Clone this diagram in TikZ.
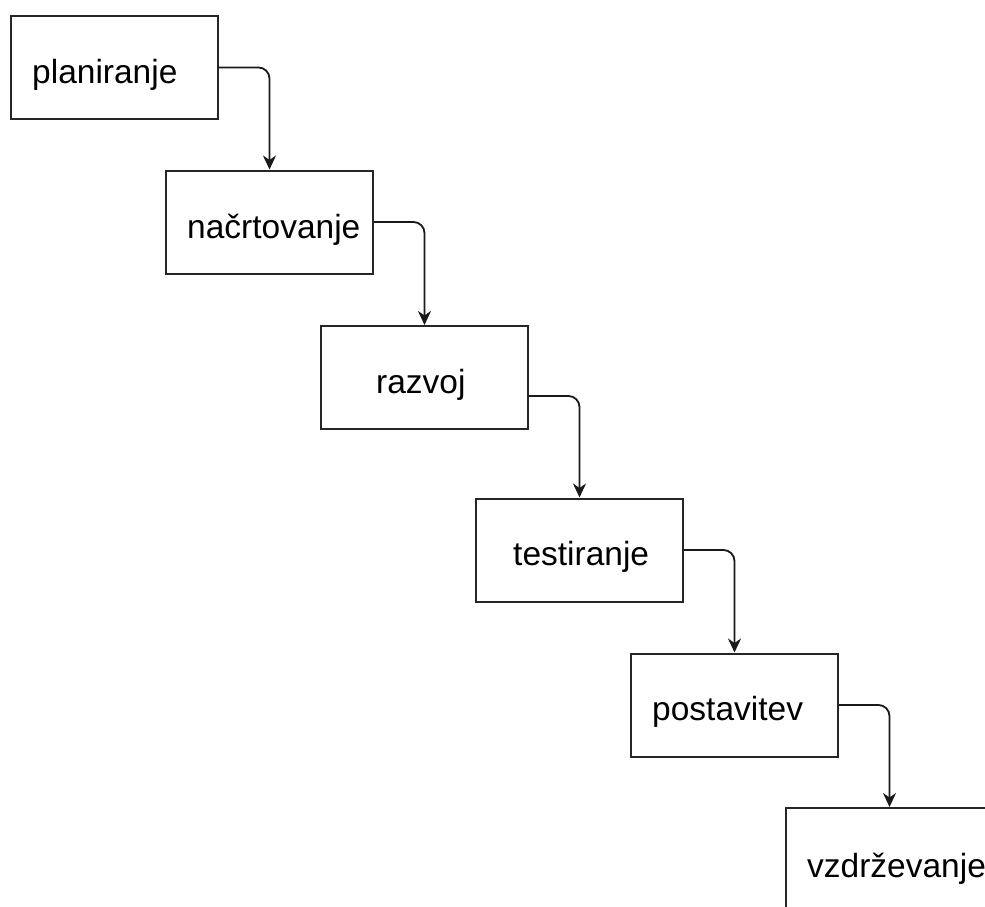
\documentclass[tikz,border=0pt]{standalone}
\usepackage{fontspec}
\setmainfont{Liberation Sans}
\usetikzlibrary{arrows.meta,calc}
\begin{document}
\begin{tikzpicture}[x=1pt,y=-1pt,
  box/.style={draw=black!85,line width=2pt,rectangle,minimum width=207pt,minimum height=103pt,inner sep=0pt,fill=white},
  lbl/.style={anchor=base west,inner sep=0pt,font=\fontsize{33.5pt}{40pt}\selectfont},
  arr/.style={draw=black!90,line width=1.8pt,rounded corners=11pt,-{Stealth[length=14pt,width=13pt,inset=4.5pt]}}]
\clip (0,0) rectangle (985,907);
\fill[white] (0,0) rectangle (985,907);
\node[box] (b1) at (114,67.5) {};
\node[box] (b2) at (269.5,222) {};
\node[box] (b3) at (424.5,377.5) {};
\node[box] (b4) at (579.5,550) {};
\node[box] (b5) at (734.5,705) {};
\node[box] (b6) at (889.5,859.5) {};
\node[lbl] (t1) at (32,83) {planiranje};
\node[lbl] (t2) at (187,238) {načrtovanje};
\node[lbl] (t3) at (376,393) {razvoj};
\node[lbl] (t4) at (513,565) {testiranje};
\node[lbl] (t5) at (652,720) {postavitev};
\node[lbl] (t6) at (807,877) {vzdrževanje};
\draw[arr] (b1.east) -| (b2.north);
\draw[arr] (b2.east) -| (b3.north);
\draw[arr] ($(b3.east)+(0,18.5)$) -| (b4.north);
\draw[arr] (b4.east) -| (b5.north);
\draw[arr] (b5.east) -| (b6.north);
\end{tikzpicture}
\end{document}
